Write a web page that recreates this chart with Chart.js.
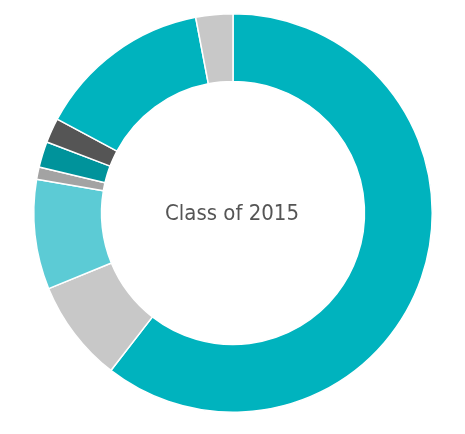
<!DOCTYPE html>
<html>
<head>
<meta charset="utf-8">
<script src="https://cdn.jsdelivr.net/npm/chart.js@4/dist/chart.umd.min.js"></script>
<style>
html,body{margin:0;padding:0;background:#fff;}
#wrap{position:relative;width:465px;height:434px;}
</style>
</head>
<body>
<div id="wrap"><canvas id="c" width="465" height="434"></canvas></div>
<script>
const categories = ["A", "B", "C", "D", "E", "F", "G", "H"];
const values = [60.5, 8.3, 8.9, 1.0, 2.1, 2.0, 14.2, 3.0];
const colors = ["#00B3BE", "#C8C8C8", "#5CCBD5", "#A3A3A3", "#00939B", "#555555", "#00B3BE", "#C8C8C8"];
const centerLabel = "Class of 2015";

const centerText = {
  id: 'centerText',
  afterDraw(chart) {
    const meta = chart.getDatasetMeta(0);
    const arc = meta.data[0];
    const ctx = chart.ctx;
    ctx.save();
    ctx.font = '22px "Liberation Sans Narrow", "DejaVu Sans Condensed", sans-serif';
    ctx.fillStyle = '#555555';
    ctx.textAlign = 'center';
    ctx.textBaseline = 'middle';
    ctx.fillText(centerLabel, arc.x - 1, arc.y + 1);
    ctx.restore();
  }
};

new Chart(document.getElementById('c'), {
  type: 'doughnut',
  data: {
    labels: categories,
    datasets: [{
      data: values,
      backgroundColor: colors,
      borderColor: '#ffffff',
      borderWidth: 1.5
    }]
  },
  options: {
    responsive: false,
    animation: false,
    cutout: '66%',
    layout: { padding: { top: 13, bottom: 21, left: 1, right: 0 } },
    plugins: { legend: { display: false }, tooltip: { enabled: false } }
  },
  plugins: [centerText]
});
</script>
</body>
</html>
